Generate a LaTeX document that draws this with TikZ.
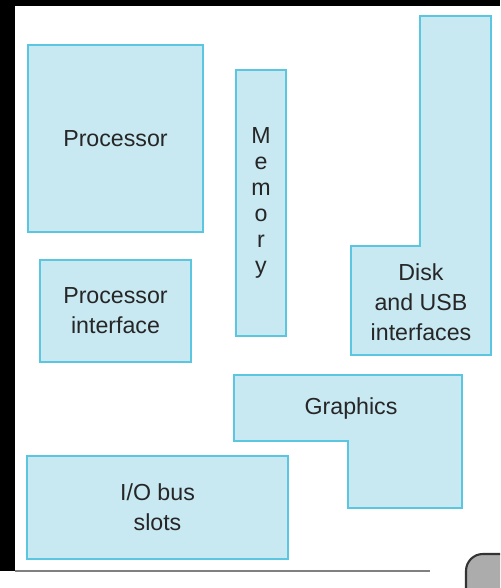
\documentclass[tikz,border=0pt]{standalone}
\usepackage{fontspec}
\setmainfont{Liberation Sans}
\usepackage{tikz}
\definecolor{Frame}{HTML}{000000}
\definecolor{Cyan}{HTML}{5AC6E0}
\definecolor{SoftCyan}{HTML}{C8E8F2}
\definecolor{Ink}{HTML}{262626}
\begin{document}
\begin{tikzpicture}[x=0.25mm,y=-0.25mm,
  part/.style={draw=Cyan,fill=SoftCyan,line width=0.9pt,inner sep=0pt,outer sep=0pt,align=center,text=Ink,font=\fontsize{16.5}{21.3}\selectfont},
  lbl/.style={inner sep=0pt,align=center,text=Ink,font=\fontsize{16.5}{21.3}\selectfont}
]
\useasboundingbox (0,0) rectangle (500,588);
\clip (0,0) rectangle (500,588);
% screen frame
\fill[white] (0,0) rectangle (500,588);
\fill[Frame] (0,0) rectangle (500,6);
\fill[Frame] (0,0) rectangle (15,571);
\draw[gray,line width=2pt] (15,571) -- (430,571);
\draw[gray!40!black,fill=gray!65,line width=1.5pt,rounded corners=12pt] (466,554) rectangle (540,630);
% board parts
\node[part,minimum width=43.75mm,minimum height=46.75mm] (proc) at (115.5,138.5) {Processor};
\node[part,minimum width=37.75mm,minimum height=25.5mm] (procif) at (115.5,311) {Processor\\interface};
\node[part,minimum width=12.5mm,minimum height=66.5mm,font=\fontsize{16.5}{18.6}\selectfont] (mem) at (261,203) {M\\e\\m\\o\\r\\y};
\node[part,minimum width=65.25mm,minimum height=25.75mm] (iobus) at (157.5,507.5) {I/O bus\\slots};
\draw[draw=Cyan,fill=SoftCyan,line width=0.9pt] (420,16) -- (491,16) -- (491,355) -- (351,355) -- (351,246) -- (420,246) -- cycle;
\node[lbl] (disk) at (421,302) {Disk\\and USB\\interfaces};
\draw[draw=Cyan,fill=SoftCyan,line width=0.9pt] (234,375) -- (462,375) -- (462,508) -- (348,508) -- (348,441) -- (234,441) -- cycle;
\node[lbl] (gfx) at (351,408) {Graphics};
\end{tikzpicture}
\end{document}
